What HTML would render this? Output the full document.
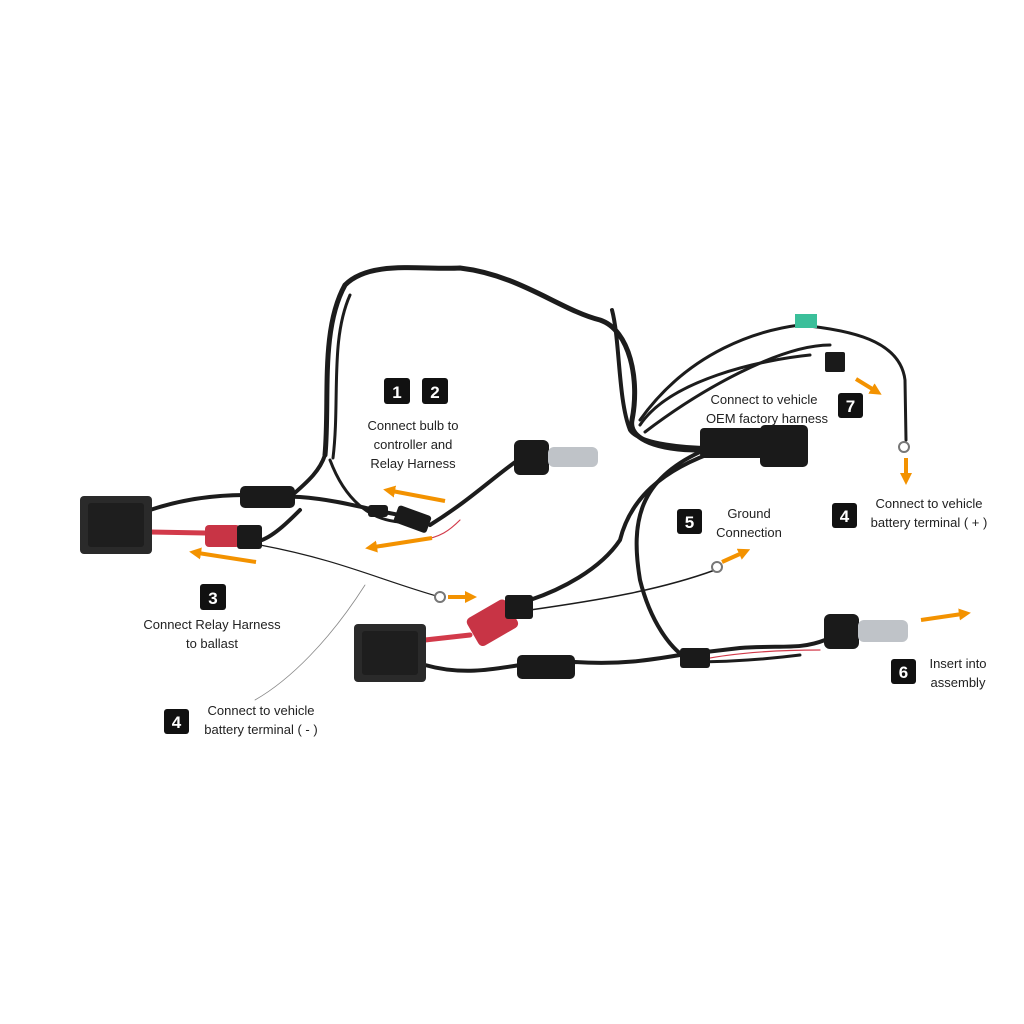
<!DOCTYPE html>
<html><head><meta charset="utf-8"><style>
html,body{margin:0;padding:0;background:#fff;width:1024px;height:1024px;overflow:hidden}
svg{display:block}
text{font-family:"Liberation Sans",sans-serif;fill:#222;font-size:13px}
.n{fill:#fff;font-weight:bold;font-size:17px;text-anchor:middle}
.c{text-anchor:middle}
</style></head><body>
<svg width="1024" height="1024" viewBox="0 0 1024 1024" xmlns="http://www.w3.org/2000/svg">
<defs>
<marker id="ah" markerWidth="12" markerHeight="12" refX="3" refY="6" orient="auto" markerUnits="userSpaceOnUse">
<path d="M0,0 L12,6 L0,12 z" fill="#f39200"/></marker>
</defs>
<g fill="none" stroke="#1c1c1c" stroke-linecap="round" stroke-linejoin="round">
<path d="M325,455 C330,400 320,330 345,285 C370,260 420,270 460,268 C520,275 560,310 600,320 C630,330 640,380 632,420 C628,440 660,450 700,450" stroke-width="5"/>
<path d="M333,458 C340,400 330,340 350,295" stroke-width="3"/>
<path d="M612,310 C620,340 618,400 630,430 C640,445 690,448 710,448" stroke-width="4"/>
<path d="M640,425 C670,380 760,360 810,355" stroke-width="3"/>
<path d="M640,420 C690,350 760,330 800,325 C850,330 900,340 905,380 L906,440" stroke-width="3"/>
<path d="M645,432 C700,390 780,345 830,345" stroke-width="3"/>
<path d="M720,450 C660,470 630,500 620,540 C600,570 560,590 530,600" stroke-width="4"/>
<path d="M700,452 C640,480 630,520 640,580 C650,620 670,650 690,660" stroke-width="4"/>
<path d="M530,610 C600,600 660,590 715,570" stroke-width="1.5"/>
<path d="M150,510 C180,500 210,495 245,495 L300,497 C340,500 370,510 400,515" stroke-width="4"/>
<path d="M290,497 C310,480 320,470 325,455" stroke-width="4"/>
<path d="M330,460 C345,500 370,520 400,522" stroke-width="3"/>
<path d="M300,510 C290,520 275,535 262,540" stroke-width="4"/>
<path d="M430,525 C470,500 490,480 518,460" stroke-width="4"/>
<path d="M260,545 C340,560 380,580 440,597" stroke-width="1.2"/>
<path d="M365,585 C330,640 290,680 255,700" stroke-width="0.8" stroke="#888"/>
<path d="M425,665 C460,675 490,670 520,665 L575,662 C620,665 650,660 680,655 L740,648 C780,645 800,650 825,640" stroke-width="4"/>
<path d="M690,662 C720,662 760,660 800,655" stroke-width="3"/>
</g>
<g fill="none" stroke-linecap="round">
<path d="M150,532 L205,533" stroke="#d23a4a" stroke-width="5"/>
<path d="M425,640 L470,635" stroke="#d23a4a" stroke-width="5"/>
<path d="M420,540 C440,538 450,530 460,520" stroke="#d23a4a" stroke-width="1.2"/>
<path d="M690,662 C720,655 760,650 820,650" stroke="#d23a4a" stroke-width="1.2"/>
</g>
<rect x="80" y="496" width="72" height="58" rx="4" fill="#2a2a2a"/>
<rect x="88" y="503" width="56" height="44" rx="3" fill="#1e1e1e"/>
<rect x="354" y="624" width="72" height="58" rx="4" fill="#2a2a2a"/>
<rect x="362" y="631" width="56" height="44" rx="3" fill="#1e1e1e"/>
<rect x="240" y="486" width="55" height="22" rx="5" fill="#1a1a1a"/>
<rect x="517" y="655" width="58" height="24" rx="5" fill="#1a1a1a"/>
<rect x="205" y="525" width="35" height="22" rx="4" fill="#c83445"/>
<rect x="470" y="607" width="45" height="32" rx="5" fill="#c83445" transform="rotate(-30 492 623)"/>
<rect x="237" y="525" width="25" height="24" rx="3" fill="#1a1a1a"/>
<rect x="505" y="595" width="28" height="24" rx="3" fill="#1a1a1a"/>
<rect x="395" y="510" width="35" height="18" rx="3" fill="#1a1a1a" transform="rotate(20 412 519)"/>
<rect x="368" y="505" width="20" height="12" rx="3" fill="#1a1a1a"/>
<rect x="680" y="648" width="30" height="20" rx="3" fill="#1a1a1a"/>
<rect x="700" y="428" width="105" height="30" rx="4" fill="#1a1a1a"/>
<rect x="760" y="425" width="48" height="42" rx="5" fill="#1a1a1a"/>
<rect x="795" y="314" width="22" height="14" fill="#3bbf9a"/>
<rect x="825" y="352" width="20" height="20" rx="2" fill="#1a1a1a"/>
<circle cx="440" cy="597" r="5" fill="#fff" stroke="#777" stroke-width="2"/>
<circle cx="904" cy="447" r="5" fill="#fff" stroke="#777" stroke-width="2"/>
<circle cx="717" cy="567" r="5" fill="#fff" stroke="#777" stroke-width="2"/>
<rect x="514" y="440" width="35" height="35" rx="6" fill="#1a1a1a"/>
<rect x="548" y="447" width="50" height="20" rx="6" fill="#bfc3c8"/>
<rect x="824" y="614" width="35" height="35" rx="6" fill="#1a1a1a"/>
<rect x="858" y="620" width="50" height="22" rx="6" fill="#bfc3c8"/>
<g stroke="#f39200" stroke-width="4" marker-end="url(#ah)" fill="none">
<line x1="445" y1="501" x2="392" y2="491"/>
<line x1="432" y1="538" x2="374" y2="547"/>
<line x1="256" y1="562" x2="198" y2="553"/>
<line x1="448" y1="597" x2="468" y2="597"/>
<line x1="856" y1="379" x2="874" y2="390"/>
<line x1="906" y1="458" x2="906" y2="476"/>
<line x1="722" y1="562" x2="742" y2="553"/>
<line x1="921" y1="620" x2="962" y2="614"/>
</g>
<g>
<rect x="384" y="378" width="26" height="26" rx="3" fill="#111"/><text x="397" y="398" class="n">1</text>
<rect x="422" y="378" width="26" height="26" rx="3" fill="#111"/><text x="435" y="398" class="n">2</text>
<rect x="200" y="584" width="26" height="26" rx="3" fill="#111"/><text x="213" y="604" class="n">3</text>
<rect x="164" y="709" width="25" height="25" rx="3" fill="#111"/><text x="176.5" y="728" class="n">4</text>
<rect x="838" y="393" width="25" height="25" rx="3" fill="#111"/><text x="850.5" y="412" class="n">7</text>
<rect x="677" y="509" width="25" height="25" rx="3" fill="#111"/><text x="689.5" y="528" class="n">5</text>
<rect x="832" y="503" width="25" height="25" rx="3" fill="#111"/><text x="844.5" y="522" class="n">4</text>
<rect x="891" y="659" width="25" height="25" rx="3" fill="#111"/><text x="903.5" y="678" class="n">6</text>
</g>
<text class="c" x="413" y="430">Connect bulb to</text>
<text class="c" x="413" y="449">controller and</text>
<text class="c" x="413" y="468">Relay Harness</text>
<text class="c" x="212" y="629">Connect Relay Harness</text>
<text class="c" x="212" y="648">to ballast</text>
<text class="c" x="261" y="715">Connect to vehicle</text>
<text class="c" x="261" y="734">battery terminal ( - )</text>
<text class="c" x="764" y="404">Connect to vehicle</text>
<text class="c" x="767" y="423">OEM factory harness</text>
<text class="c" x="749" y="518">Ground</text>
<text class="c" x="749" y="537">Connection</text>
<text class="c" x="929" y="508">Connect to vehicle</text>
<text class="c" x="929" y="527">battery terminal ( + )</text>
<text class="c" x="958" y="668">Insert into</text>
<text class="c" x="958" y="687">assembly</text>
</svg>
</body></html>
